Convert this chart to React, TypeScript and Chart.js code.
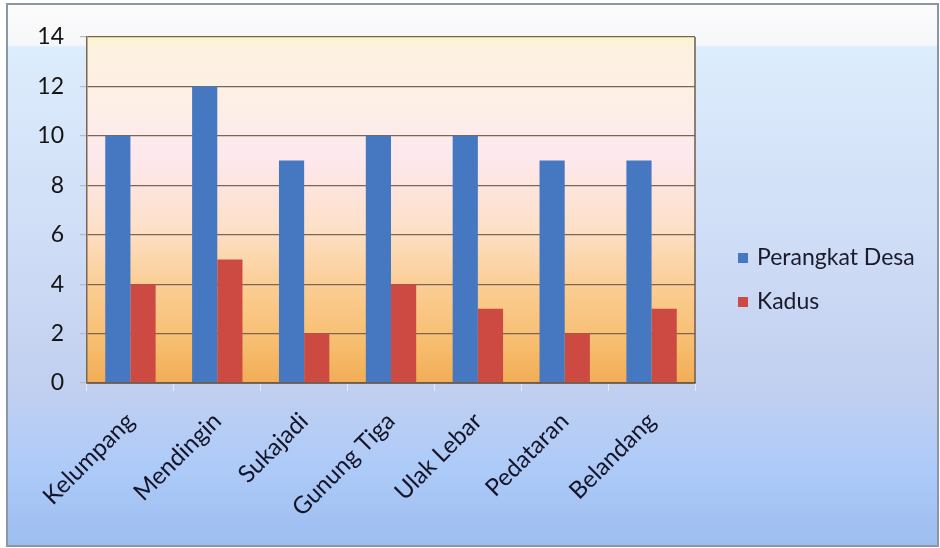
import React, { useEffect, useRef } from "react";
import { Chart, registerables } from "chart.js";

Chart.register(...registerables);

const categories = ["Kelumpang", "Mendingin", "Sukajadi", "Gunung Tiga", "Ulak Lebar", "Pedataran", "Belandang"];
const perangkatDesa = [10, 12, 9, 10, 10, 9, 9];
const kadus = [4, 5, 2, 4, 3, 2, 3];
const seriesNames = ["Perangkat Desa", "Kadus"];
const seriesColors = ["#4678c2", "#cd4a42"];
const yMin = 0;
const yMax = 14;
const yStep = 2;

const FONT = "Lato, 'Open Sans', sans-serif";

const backgroundPlugin = {
  id: "excelBackground",
  beforeDraw(chart: any) {
    const { ctx, width, height, chartArea } = chart;
    ctx.save();
    ctx.fillStyle = "#ffffff";
    ctx.fillRect(0, 0, width, height);
    const fx = 7, fy = 4, fw = 931, fh = 542;
    const g = ctx.createLinearGradient(0, fy, 0, fy + fh);
    g.addColorStop(0, "#fbfbfb");
    g.addColorStop(0.075, "#f6f7f9");
    g.addColorStop(0.08, "#dcedfc");
    g.addColorStop(0.45, "#cfdcf6");
    g.addColorStop(0.7, "#c2d0f0");
    g.addColorStop(0.85, "#aecbf8");
    g.addColorStop(1, "#9dbdf0");
    ctx.fillStyle = g;
    ctx.fillRect(fx, fy, fw, fh);
    ctx.strokeStyle = "#8c96a4";
    ctx.lineWidth = 2;
    ctx.strokeRect(fx, fy, fw, fh);
    const { left, top, right, bottom } = chartArea;
    const pg = ctx.createLinearGradient(0, top, 0, bottom);
    pg.addColorStop(0, "#f8f6c8");
    pg.addColorStop(0.03, "#fdf1e0");
    pg.addColorStop(0.2, "#fdefe6");
    pg.addColorStop(0.35, "#fde8ee");
    pg.addColorStop(0.55, "#fde0c8");
    pg.addColorStop(0.72, "#fbcd94");
    pg.addColorStop(0.88, "#f7be70");
    pg.addColorStop(1, "#f1ad55");
    ctx.fillStyle = pg;
    ctx.fillRect(left, top, right - left, bottom - top);
    ctx.restore();
  },
  afterDatasetsDraw(chart: any) {
    const { ctx, chartArea } = chart;
    const { left, top, right, bottom } = chartArea;
    ctx.save();
    ctx.strokeStyle = "#6e5c4c";
    ctx.lineWidth = 1.5;
    ctx.beginPath();
    ctx.moveTo(right, top);
    ctx.lineTo(right, bottom);
    ctx.moveTo(left, bottom);
    ctx.lineTo(right, bottom);
    ctx.stroke();
    ctx.restore();
  },
  afterDraw(chart: any) {
    // legend at the right, Excel style
    const { ctx } = chart;
    const x0 = 738;
    const yStart = 258;
    const gap = 44;
    ctx.save();
    ctx.font = `23px ${FONT}`;
    ctx.textBaseline = "middle";
    ctx.textAlign = "left";
    chart.data.datasets.forEach((ds: any, i: number) => {
      const y = yStart + i * gap;
      ctx.fillStyle = ds.backgroundColor;
      ctx.fillRect(x0, y - 5, 10, 10);
      ctx.fillStyle = "#1a1a2a";
      ctx.fillText(ds.label, x0 + 19, y);
    });
    ctx.restore();
  },
};

export default function App() {
  const canvasRef = useRef<HTMLCanvasElement | null>(null);

  useEffect(() => {
    document.body.style.margin = "0";
    const canvas = canvasRef.current;
    if (!canvas) return;
    const chart = new Chart(canvas, {
      type: "bar",
      data: {
        labels: categories,
        datasets: [
          {
            label: seriesNames[0],
            data: perangkatDesa,
            backgroundColor: seriesColors[0],
            borderWidth: 0,
          },
          {
            label: seriesNames[1],
            data: kadus,
            backgroundColor: seriesColors[1],
            borderWidth: 0,
          },
        ],
      },
      plugins: [backgroundPlugin],
      options: {
        responsive: false,
        animation: false,
        devicePixelRatio: 1,
        layout: { padding: { left: 7, top: 37, right: 245, bottom: 0 } },
        datasets: {
          bar: { categoryPercentage: 0.58, barPercentage: 1 },
        },
        plugins: {
          tooltip: { enabled: false },
          legend: { display: false },
        },
        scales: {
          x: {
            grid: {
              offset: true,
              drawOnChartArea: false,
              drawTicks: true,
              tickLength: 8,
              color: "#e8ecf4",
            },
            border: { display: true, color: "#6e5c4c", width: 1.5 },
            ticks: {
              minRotation: 45,
              maxRotation: 45,
              autoSkip: false,
              color: "#141428",
              font: { family: FONT, size: 24 },
              padding: 16,
            },
            afterFit(scale: any) {
              scale.height = 165;
            },
          },
          y: {
            min: yMin,
            max: yMax,
            ticks: {
              stepSize: yStep,
              color: "#141414",
              font: { family: FONT, size: 23 },
              padding: 16,
            },
            grid: {
              color: "#7a6654",
              lineWidth: 1.2,
              drawTicks: true,
              tickLength: 7,
              tickColor: "#b8b8c8",
            },
            border: { display: true, color: "#7a6654", width: 1.5 },
            afterFit(scale: any) {
              scale.width = 80;
            },
          },
        },
      },
    } as any);
    return () => chart.destroy();
  }, []);

  return (
    <div style={{ width: 940, height: 548 }}>
      <canvas ref={canvasRef} width={940} height={548} style={{ display: "block" }} />
    </div>
  );
}
